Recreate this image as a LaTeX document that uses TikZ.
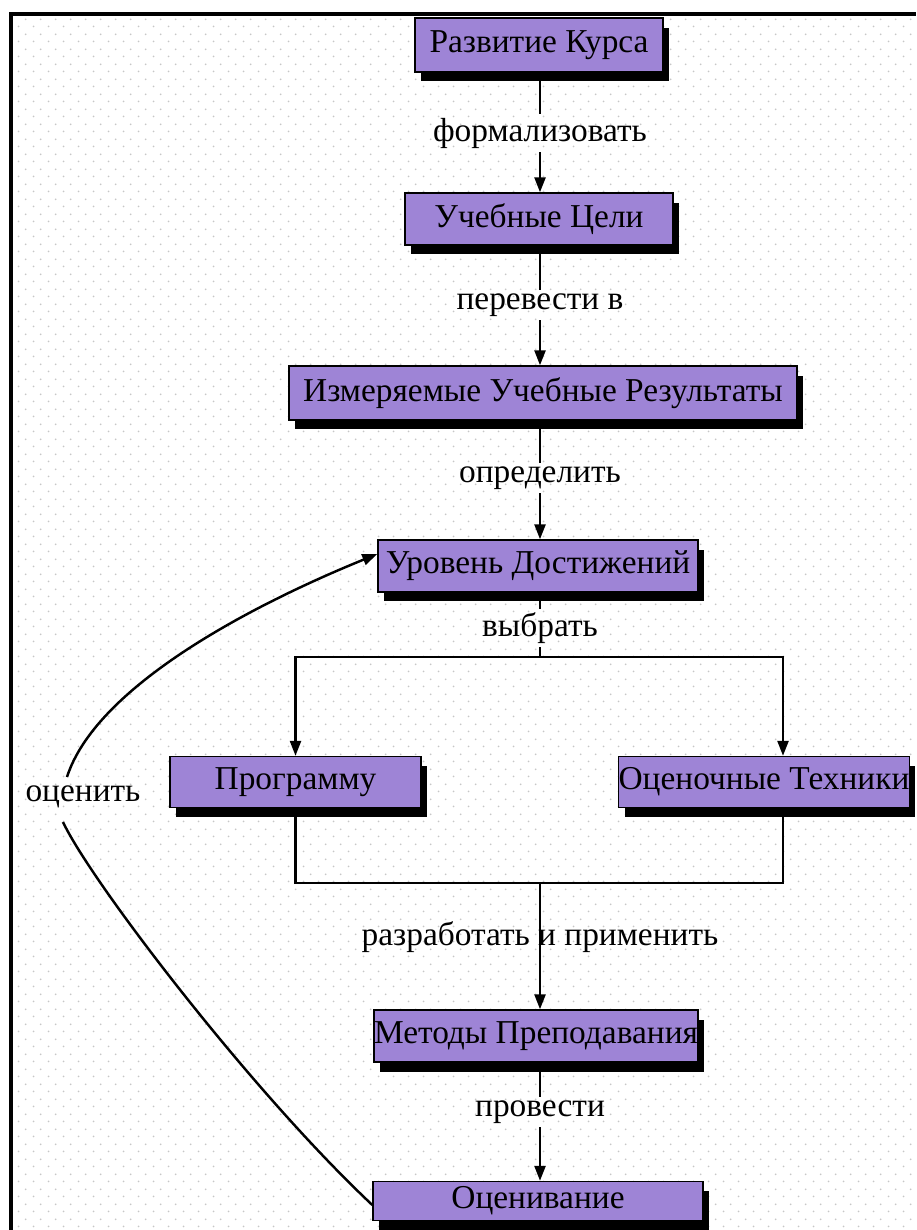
\documentclass[tikz,border=0pt]{standalone}
\usepackage{fontspec}
\setmainfont{Liberation Serif}
\usetikzlibrary{calc,arrows.meta,shadows,patterns.meta}
\definecolor{lavande}{RGB}{158,132,214}
\tikzset{
    boite/.style={draw=black, line width=0.8pt, fill=lavande, inner sep=0pt,
      font=\fontsize{19}{22}\selectfont,
      drop shadow={shadow xshift=0.12cm, shadow yshift=-0.19cm, fill=black, opacity=1}},
    verbe/.style={inner sep=2pt, font=\fontsize{19}{22}\selectfont},
    lien/.style={line width=1.4pt},
    fleche/.style={lien, -{Triangle[length=0.3cm,width=0.22cm]}},
  }
\tikzdeclarepattern{name=pointilles, type=uncolored,
  bounding box={(0cm,0cm) and (0.292cm,0.292cm)}, tile size={(0.292cm,0.292cm)},
  code={\fill (0.073cm,0.073cm) circle (0.02cm); \fill (0.219cm,0.219cm) circle (0.02cm);}}

\begin{document}
\begin{tikzpicture}[x=0.02cm,y=-0.02cm]
				  %FOND et cadre
				  \useasboundingbox (0,0) rectangle (916,1230);
				  \fill[white] (0,0) rectangle (916,1230);
				  \fill[pattern=pointilles, pattern color=black!22] (12,14) rectangle (916,1230);
				  \draw[line width=1.8pt] (11,1230) -- (11,14) -- (916,14);
				  
				  %BOITES
				  \node[boite, minimum width=4.96cm, minimum height=1.08cm] (kurs) at (539,45) {Развитие Курса};
				  \node[boite, minimum width=5.36cm, minimum height=1.04cm] (celi) at (539,219) {Учебные Цели};
				  \node[boite, minimum width=10.16cm, minimum height=1.08cm] (rezult) at (543,393) {Измеряемые Учебные Результаты};
				  \node[boite, minimum width=6.4cm, minimum height=1.04cm] (uroven) at (538,566) {Уровень Достижений};
				  \node[boite, minimum width=5.02cm, minimum height=1.02cm] (progr) at (295.5,782) {Программу};
				  \node[boite, minimum width=5.76cm, minimum height=1.02cm] (tehn) at (764,782) {Оценочные Техники};
				  \node[boite, minimum width=6.42cm, minimum height=1.04cm] (metod) at (536,1036) {Методы Преподавания};
				  \node[boite, minimum width=6.6cm, minimum height=0.78cm] (ocen) at (538,1201) {Оценивание};
				  
				  %VERBES
				  \node[verbe] (formal) at (540,133) {формализовать};
				  \node[verbe] (perev) at (540,305) {перевести в};
				  \node[verbe] (opred) at (540,478) {определить};
				  \node[verbe] (vybr) at (540,628) {выбрать};
				  \node[verbe] (razrab) at (540,937) {разработать и применить};
				  \node[verbe] (provesti) at (540,1112) {провести};
				  \node[verbe] (ocenit) at (83,797) {оценить};
				  
				  %FLECHES verticales
				  \draw[lien] (kurs.south -| formal) -- (formal.north);
				  \draw[fleche] (formal.south) -- (celi.north -| formal);
				  \draw[lien] (celi.south -| perev) -- (perev.north);
				  \draw[fleche] (perev.south) -- (rezult.north -| perev);
				  \draw[lien] (rezult.south -| opred) -- (opred.north);
				  \draw[fleche] (opred.south) -- (uroven.north -| opred);
				  \draw[lien] (metod.south -| provesti) -- (provesti.north);
				  \draw[fleche] (provesti.south) -- (ocen.north -| provesti);
				  
				  %choix
				  \coordinate (split) at (540,657);
				  \coordinate (splitD) at (783,657);
				  \draw[lien] (uroven.south -| vybr) -- (vybr.north);
				  \draw[lien] (vybr.south) -- (split);
				  \draw[fleche] (split) -| (progr.north);
				  \draw[fleche] (split) -- (splitD) -- (splitD |- tehn.north);
				  
				  %retour
				  \coordinate (joinG) at (295.5,883);
				  \coordinate (joinD) at (783,883);
				  \coordinate (join) at (540,883);
				  \draw[lien] (progr.south) -- (joinG) -- (joinD) -- (joinD |- tehn.south);
				  \draw[fleche] (join) -- (metod.north -| join);
				  
				  %OCENIT courbe
				  \coordinate (bas) at (63,822);
				  \coordinate (haut) at (67,777);
				  \draw[lien] ($(ocen.west)+(0,4)$) .. controls (250,1090) and (90,880) .. (bas);
				  \draw[fleche] (haut) .. controls (95,690) and (240,610) .. ($(uroven.west)+(0,-12)$);
				  
\end{tikzpicture}
\end{document}
